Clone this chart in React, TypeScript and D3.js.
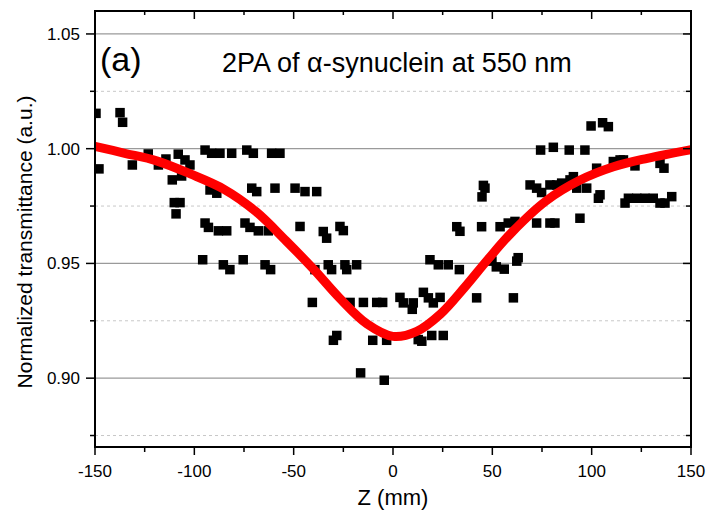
import React from "react";
import * as d3 from "d3";

const dataZ = [
  -149.5, -148, -137.4, -136.1, -131.2, -123.2, -118.1, -114.3, -111.1, -108.1, -104.7, -102.2, -106.4,
  -110.1, -107.2, -109.2, -94.6, -91.3, -87.1, -81.2, -73.6, -70.3, -61.1, -56.9, -92.1, -88.7, -71.1,
  -68.6, -59.4, -49.3, -44.3, -38.4, -94.6, -92.9, -87.9, -83.7, -74.5, -72, -67.8, -62.8, -46.8, -35.1,
  -33.4, -26.7, -25, -95.8, -85.4, -82.1, -75.4, -64.4, -61.6, -39.3, -32.6, -30.9, -24.2, -23.3, -18.3,
  -40.6, -21.6, -14.9, -8.2, -5.2, -28.3, -30, -10.2, -3.2, -16.3, -4.4,
  3.5, 5.2, 10.2, 9.7, 15.3, 17.8, 20.3, 23.7, 18.6, 22.8, 27.8, 33.4, 42.1, 12.7, 14.5, 19.5, 25.3,
  49.8, 52, 56, 60.6, 63, 62.3, 44.8, 45.5, 46.3, 32.1, 33.7, 44.6, 53.9, 58, 61.4, 72.3, 79, 81.5, 94.1,
  69, 72.3, 74.8, 79, 82.4, 84.9, 89.1, 90.8, 92.5, 97.5, 103.4, 104.2, 102.5, 110.9, 114.3, 116, 121.8,
  134.4, 136.4, 116.8, 118.5, 122.7, 126.8, 131, 134.4, 136.9, 140.3, 74.3, 80.7, 88.7, 96.6, 99.7, 105.5,
  108.4,
];
const dataT = [
  1.0154, 0.9912, 1.0157, 1.0115, 0.9929, 0.9977, 0.9929, 0.9955, 0.9864, 0.9976, 0.9951, 0.9929, 0.9881,
  0.9765, 0.9765, 0.9716, 0.9994, 0.998, 0.998, 0.998, 0.9994, 0.998, 0.998, 0.998, 0.982, 0.9806, 0.9828,
  0.9813, 0.9828, 0.9828, 0.9813, 0.9813, 0.9676, 0.9657, 0.9642, 0.9642, 0.9676, 0.9657, 0.9642, 0.9642,
  0.9661, 0.9639, 0.961, 0.9661, 0.9643, 0.9516, 0.9494, 0.9473, 0.9516, 0.9494, 0.9473, 0.9473, 0.9494,
  0.9473, 0.9494, 0.9473, 0.9494,
  0.933, 0.933, 0.933, 0.933, 0.933, 0.9186, 0.9165, 0.9165, 0.9165, 0.9023, 0.8991,
  0.9352, 0.9328, 0.9328, 0.93, 0.9374, 0.935, 0.9328, 0.9352, 0.9516, 0.9494, 0.9494, 0.9473, 0.935,
  0.9168, 0.9161, 0.9186, 0.9186,
  0.951, 0.9485, 0.9475, 0.935, 0.9525, 0.951, 0.979, 0.984, 0.9828, 0.966, 0.964, 0.966, 0.966, 0.9676,
  0.9683, 0.9676, 0.9676, 0.9676, 0.9697,
  0.9842, 0.9828, 0.9809, 0.9842, 0.9842, 0.985, 0.9864, 0.9878, 0.9828, 0.9828, 0.9784, 0.9799, 0.9915,
  0.9944, 0.9951, 0.9951, 0.9925, 0.9936, 0.9915, 0.9763, 0.9784, 0.9784, 0.9784, 0.9784, 0.9763, 0.9763,
  0.9791, 0.9994, 1.0006, 0.9994, 0.9994, 1.0099, 1.0113, 1.0096,
];

const fitZ = [-150, -135, -119, -102, -85, -69, -54, -40, -27, -13, 0, 12, 24, 36, 48, 60, 77, 94, 111, 128, 150];
const fitT = [1.001, 0.998, 0.9947, 0.989, 0.9823, 0.9726, 0.96, 0.9475, 0.935, 0.9236, 0.9182, 0.9204, 0.928, 0.9395, 0.952, 0.9637, 0.9772, 0.9862, 0.9921, 0.9958, 0.9996];

const xMajor = [-150, -100, -50, 0, 50, 100, 150];
const xMinor = [-125, -75, -25, 25, 75, 125];
const yMajor = [0.9, 0.95, 1.0, 1.05];
const yMinor = [0.875, 0.925, 0.975, 1.025];
const yTickLabels = ["0.90", "0.95", "1.00", "1.05"];

const titleText = "2PA of α-synuclein at 550 nm";
const panelText = "(a)";
const xLabel = "Z (mm)";
const yLabel = "Normalized transmittance (a.u.)";

export default function App() {
  const W = 707, H = 521;
  const L = 95, R = 691, T = 11, B = 447;
  const x = d3.scaleLinear().domain([-150, 150]).range([L, R]);
  const y = d3.scaleLinear().domain([0.87, 1.06]).range([B, T]);
  const font = "'Liberation Sans', Arial, sans-serif";
  const line = d3
    .line<number>()
    .x((_, i) => x(fitZ[i]))
    .y((_, i) => y(fitT[i]))
    .curve(d3.curveCatmullRom.alpha(0.5));
  const sq = 9.5;
  return (
    <svg width={W} height={H} style={{ position: "absolute", left: 0, top: 0, background: "#fff" }} fontFamily={font}>
      <rect x={0} y={0} width={W} height={H} fill="#fff" />
      {yMinor.map((v) => (
        <line key={"gm" + v} x1={L} x2={R} y1={y(v)} y2={y(v)} stroke="#c8c8c8" strokeWidth={1} strokeDasharray="3,3" />
      ))}
      {yMajor.map((v) => (
        <line key={"gM" + v} x1={L} x2={R} y1={y(v)} y2={y(v)} stroke="#9a9a9a" strokeWidth={1.2} />
      ))}
      <defs>
        <clipPath id="pc">
          <rect x={L} y={T} width={R - L} height={B - T} />
        </clipPath>
      </defs>
      <g clipPath="url(#pc)">
        {dataZ.map((z, i) => (
          <rect key={"p" + i} x={x(z) - sq / 2} y={y(dataT[i]) - sq / 2} width={sq} height={sq} fill="#000" />
        ))}
        <path d={line(fitZ) || ""} fill="none" stroke="#ff0000" strokeWidth={9} strokeLinecap="butt" />
      </g>
      <rect x={L} y={T} width={R - L} height={B - T} fill="none" stroke="#000" strokeWidth={2} />
      {xMajor.map((v) => (
        <g key={"xM" + v}>
          <line x1={x(v)} x2={x(v)} y1={B} y2={B + 8} stroke="#000" strokeWidth={1.5} />
          <line x1={x(v)} x2={x(v)} y1={T} y2={T + 8} stroke="#000" strokeWidth={1.5} />
          <text x={x(v)} y={477} textAnchor="middle" fontSize={17} fill="#000">
            {v}
          </text>
        </g>
      ))}
      {xMinor.map((v) => (
        <g key={"xm" + v}>
          <line x1={x(v)} x2={x(v)} y1={B} y2={B + 5} stroke="#000" strokeWidth={1.5} />
          <line x1={x(v)} x2={x(v)} y1={T} y2={T + 4} stroke="#000" strokeWidth={1.5} />
        </g>
      ))}
      {yMajor.map((v, i) => (
        <g key={"yM" + v}>
          <line x1={L - 9} x2={L} y1={y(v)} y2={y(v)} stroke="#000" strokeWidth={1.5} />
          <line x1={R - 8} x2={R} y1={y(v)} y2={y(v)} stroke="#000" strokeWidth={1.5} />
          <text x={80} y={y(v) + 6} textAnchor="end" fontSize={17} fill="#000">
            {yTickLabels[i]}
          </text>
        </g>
      ))}
      {yMinor.map((v) => (
        <g key={"ym" + v}>
          <line x1={L - 5} x2={L} y1={y(v)} y2={y(v)} stroke="#000" strokeWidth={1.5} />
          <line x1={R - 5} x2={R} y1={y(v)} y2={y(v)} stroke="#000" strokeWidth={1.5} />
        </g>
      ))}
      <text x={100} y={71} fontSize={34} fill="#000">
        {panelText}
      </text>
      <text x={222} y={72} fontSize={27} fill="#000">
        {titleText}
      </text>
      <text x={393} y={505} textAnchor="middle" fontSize={22} fill="#000">
        {xLabel}
      </text>
      <text transform="translate(32,242) rotate(-90)" textAnchor="middle" fontSize={21} fill="#000">
        {yLabel}
      </text>
    </svg>
  );
}
